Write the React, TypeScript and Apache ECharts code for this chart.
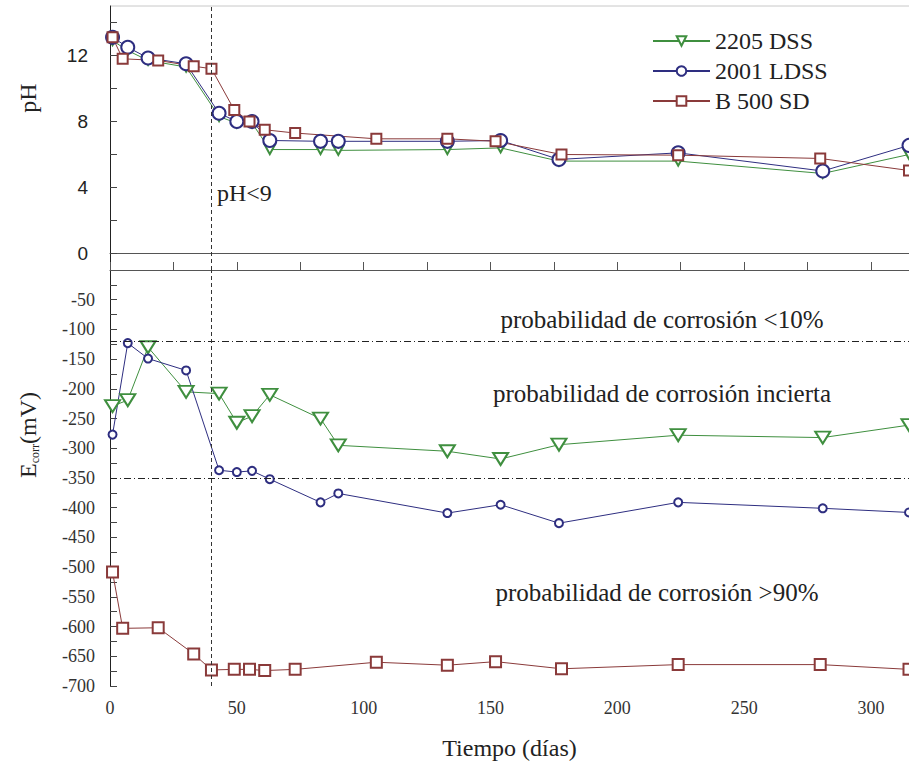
import React, { useEffect, useRef } from "react";
import * as echarts from "echarts";

// ---- data ----
const dias2205 = [1, 7, 15, 30, 43, 50, 56, 63, 83, 90, 133, 154, 177, 224, 281, 315];
const ph2205 = [12.9, 12.3, 11.7, 11.3, 8.3, 7.9, 7.9, 6.3, 6.3, 6.25, 6.3, 6.4, 5.6, 5.6, 4.85, 6.0];
const ecorr2205 = [-229, -219, -130, -205, -208, -257, -246, -210, -250, -295, -305, -318, -294, -278, -282, -261];

const dias2001 = [1, 7, 15, 30, 43, 50, 56, 63, 83, 90, 133, 154, 177, 224, 281, 315];
const ph2001 = [13.1, 12.5, 11.85, 11.5, 8.5, 8.0, 8.0, 6.85, 6.8, 6.8, 6.8, 6.85, 5.7, 6.1, 5.0, 6.55];
const ecorr2001 = [-277, -123, -149, -169, -337, -340, -338, -352, -391, -376, -409, -395, -426, -391, -401, -408];

const diasB500 = [1, 5, 19, 33, 40, 49, 55, 61, 73, 105, 133, 152, 178, 224, 280, 315];
const phB500 = [13.1, 11.8, 11.7, 11.35, 11.2, 8.7, 8.0, 7.5, 7.3, 6.95, 6.95, 6.8, 6.0, 5.96, 5.76, 5.03];
const ecorrB500 = [-508, -603, -602, -646, -673, -672, -672, -674, -672, -660, -665, -659, -671, -664, -664, -672];

const seriesNames = ["2205 DSS", "2001 LDSS", "B 500 SD"];
const xTickLabels = [0, 50, 100, 150, 200, 250, 300];
const xTicks = [0, 25, 50, 75, 100, 125, 150, 175, 200, 225, 250, 275, 300];
const phTickLabels = [0, 4, 8, 12];
const phTicks = [0, 2, 4, 6, 8, 10, 12, 14];
const eTickLabels = [-700, -650, -600, -550, -500, -450, -400, -350, -300, -250, -200, -150, -100, -50];
const eTicks = [-700, -675, -650, -625, -600, -575, -550, -525, -500, -475, -450, -425, -400, -375, -350, -325, -300, -275, -250, -225, -200, -175, -150, -125, -100, -75, -50, -25];
const pHLimitDay = 40;
const eThresholds = [-120, -350];
const annotations = [
  "probabilidad de corrosión <10%",
  "probabilidad de corrosión incierta",
  "probabilidad de corrosión >90%",
];

const GREEN = "#3f8f3f";
const BLUE = "#2e2e80";
const BROWN = "#8a3a3a";
const SERIF = "'Liberation Serif', 'Times New Roman', serif";
const SANS = "'Liberation Sans', Arial, sans-serif";

const pairs = (xs: number[], ys: number[]) => xs.map((x, i) => [x, ys[i]]);

export default function App() {
  const ref = useRef<HTMLDivElement>(null);
  useEffect(() => {
    const chart = echarts.init(ref.current!, null, { renderer: "svg" });
    const vLine = {
      silent: true,
      symbol: ["none", "none"],
      label: { show: false },
      lineStyle: { color: "#333", type: [4, 3], width: 1 },
      data: [{ xAxis: pHLimitDay }],
    };
    const base = (name: string, color: string) => ({
      name,
      type: "line",
      color,
      lineStyle: { color, width: 1 },
      itemStyle: { color, borderColor: color, borderWidth: 1.2 },
      emphasis: { disabled: true },
      clip: true,
    });
    chart.setOption({
      animation: false,
      backgroundColor: "#fff",
      grid: [
        { left: 110, top: 6, width: 799, height: 264 },
        { left: 110, top: 270, width: 799, height: 418 },
      ],
      legend: {
        data: seriesNames,
        orient: "vertical",
        left: 647,
        top: 24,
        itemGap: 6,
        itemWidth: 57,
        itemHeight: 12,
        selectedMode: false,
        textStyle: { fontFamily: SERIF, fontSize: 24, color: "#222", lineHeight: 24 },
      },
      xAxis: [
        {
          gridIndex: 0,
          type: "value",
          min: 0,
          max: 315,
          axisLine: { show: true, lineStyle: { color: "#555", width: 1 } },
          axisTick: { show: false },
          axisLabel: { show: false },
          splitLine: { show: false },
        },
        {
          gridIndex: 1,
          type: "value",
          min: 0,
          max: 315,
          interval: 50,
          name: "Tiempo (días)",
          nameLocation: "middle",
          nameGap: 50,
          nameTextStyle: { fontFamily: SERIF, fontSize: 24, color: "#222" },
          axisLine: { show: true, lineStyle: { color: "#555", width: 1 } },
          axisTick: { show: true, inside: true, length: 8, customValues: xTicks, lineStyle: { color: "#555" } },
          axisLabel: { customValues: xTickLabels, fontFamily: SERIF, fontSize: 18, color: "#333", margin: 13 },
          splitLine: { show: false },
        },
      ],
      yAxis: [
        {
          gridIndex: 0,
          type: "value",
          min: -1,
          max: 15,
          axisLine: { show: true, lineStyle: { color: "#222", width: 1 } },
          axisTick: { show: true, inside: true, length: 7, customValues: phTicks, lineStyle: { color: "#444" } },
          axisLabel: { customValues: phTickLabels, fontFamily: SANS, fontSize: 19, color: "#222", margin: 22 },
          splitLine: { show: false },
        },
        {
          gridIndex: 1,
          type: "value",
          min: -700,
          max: 0,
          axisLine: { show: true, lineStyle: { color: "#222", width: 1 } },
          axisTick: { show: true, inside: true, length: 7, customValues: eTicks, lineStyle: { color: "#444" } },
          axisLabel: { customValues: eTickLabels, fontFamily: SERIF, fontSize: 18, color: "#333", margin: 15 },
          splitLine: { show: false },
        },
      ],
      series: [
        {
          ...base(seriesNames[0], GREEN),
          xAxisIndex: 0,
          yAxisIndex: 0,
          symbol: "emptyTriangle",
          symbolRotate: 180,
          symbolSize: [10, 9],
          data: pairs(dias2205, ph2205),
        },
        {
          ...base(seriesNames[1], BLUE),
          xAxisIndex: 0,
          yAxisIndex: 0,
          symbol: "emptyCircle",
          symbolSize: 13,
          data: pairs(dias2001, ph2001),
        },
        {
          ...base(seriesNames[2], BROWN),
          xAxisIndex: 0,
          yAxisIndex: 0,
          symbol: "emptyRect",
          symbolSize: 10,
          data: pairs(diasB500, phB500),
          markLine: vLine,
        },
        {
          ...base(seriesNames[0], GREEN),
          xAxisIndex: 1,
          yAxisIndex: 1,
          symbol: "emptyTriangle",
          symbolRotate: 180,
          symbolSize: [15, 12],
          data: pairs(dias2205, ecorr2205),
          markLine: {
            silent: true,
            symbol: ["none", "none"],
            label: { show: false },
            lineStyle: { color: "#222", type: [7, 3, 1, 3], width: 1 },
            data: eThresholds.map((v) => ({ yAxis: v })),
          },
        },
        {
          ...base(seriesNames[1], BLUE),
          xAxisIndex: 1,
          yAxisIndex: 1,
          symbol: "emptyCircle",
          symbolSize: 8,
          data: pairs(dias2001, ecorr2001),
        },
        {
          ...base(seriesNames[2], BROWN),
          xAxisIndex: 1,
          yAxisIndex: 1,
          symbol: "emptyRect",
          symbolSize: 11,
          data: pairs(diasB500, ecorrB500),
          markLine: vLine,
        },
      ],
      graphic: [
        {
          type: "line",
          shape: { x1: 110, y1: 6, x2: 909, y2: 6 },
          style: { stroke: "#c8c8c8", lineWidth: 1 },
          silent: true,
        },
        {
          type: "text",
          x: 217,
          y: 193,
          style: { text: "pH<9", fontFamily: SERIF, fontSize: 24, fill: "#222", align: "left", verticalAlign: "middle" },
        },
        {
          type: "text",
          x: 662,
          y: 319,
          style: { text: annotations[0], fontFamily: SERIF, fontSize: 25, fill: "#222", align: "center", verticalAlign: "middle" },
        },
        {
          type: "text",
          x: 662,
          y: 393,
          style: { text: annotations[1], fontFamily: SERIF, fontSize: 25, fill: "#222", align: "center", verticalAlign: "middle" },
        },
        {
          type: "text",
          x: 657,
          y: 592,
          style: { text: annotations[2], fontFamily: SERIF, fontSize: 25, fill: "#222", align: "center", verticalAlign: "middle" },
        },
        {
          type: "text",
          x: 28,
          y: 98,
          rotation: Math.PI / 2,
          style: { text: "pH", fontFamily: SERIF, fontSize: 24, fill: "#222", align: "center", verticalAlign: "middle" },
        },
        {
          type: "text",
          x: 28,
          y: 435,
          rotation: Math.PI / 2,
          style: {
            text: "{a|E}{b|corr}{a|(mV)}",
            align: "center",
            verticalAlign: "middle",
            rich: {
              a: { fontFamily: SERIF, fontSize: 24, fill: "#222", lineHeight: 26 },
              b: { fontFamily: SERIF, fontSize: 12, fill: "#222", verticalAlign: "bottom", lineHeight: 26 },
            },
          },
        },
      ],
    });
    return () => chart.dispose();
  }, []);
  return (
    <div
      ref={ref}
      style={{ position: "absolute", left: 0, top: 0, width: 909, height: 765 }}
    />
  );
}
